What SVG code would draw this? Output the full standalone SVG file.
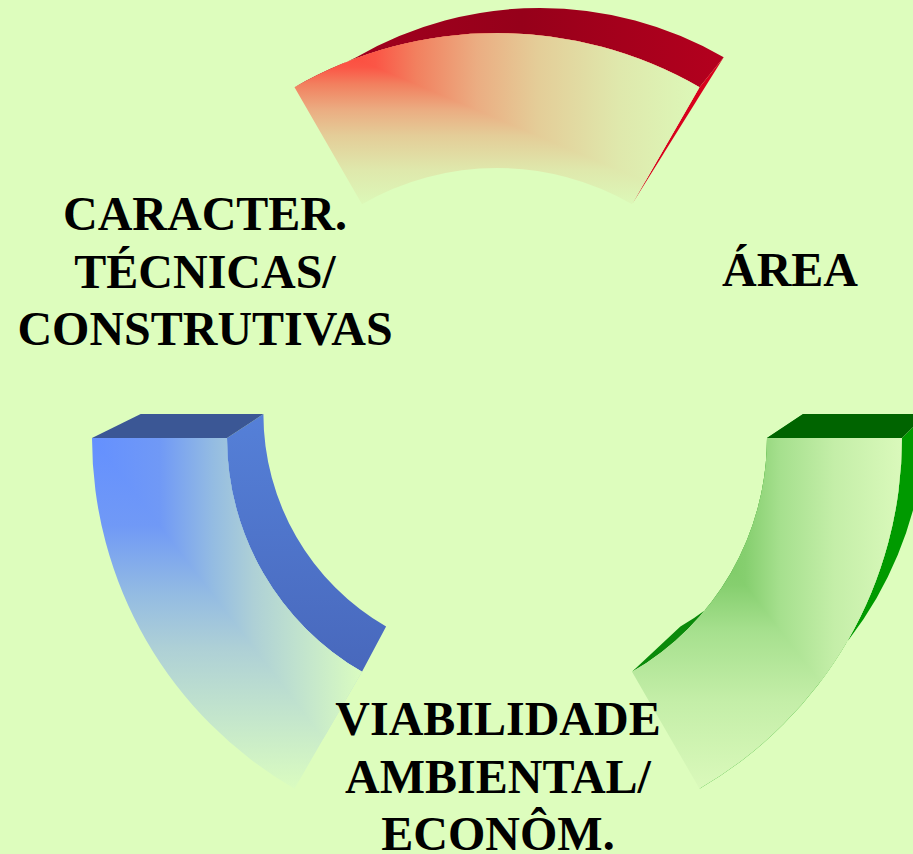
<svg xmlns="http://www.w3.org/2000/svg" width="913" height="854" viewBox="0 0 913 854">
<style>
text{font-family:"Liberation Serif","Times New Roman",serif;font-weight:bold;font-size:48px;fill:#000;text-anchor:middle}
</style>
<defs>
<clipPath id="ur" clipPathUnits="objectBoundingBox"><polygon points="0,0 1,0 1,1"/></clipPath>
<linearGradient id="rH" x1="0" y1="0" x2="1" y2="0">
<stop offset="0" stop-color="#ff3a30"/><stop offset="0.2" stop-color="#fb5646"/><stop offset="0.3" stop-color="#f2805f"/><stop offset="0.45" stop-color="#ebad82"/><stop offset="0.6" stop-color="#e4cd98"/><stop offset="0.8" stop-color="#dfe8ac"/><stop offset="1" stop-color="#dcf8b8"/>
</linearGradient>
<linearGradient id="rV" x1="0" y1="0" x2="0" y2="1">
<stop offset="0" stop-color="#ff3a30"/><stop offset="0.2" stop-color="#fb5646"/><stop offset="0.3" stop-color="#f2805f"/><stop offset="0.45" stop-color="#ebad82"/><stop offset="0.6" stop-color="#e4cd98"/><stop offset="0.8" stop-color="#dfe8ac"/><stop offset="1" stop-color="#dcf8b8"/>
</linearGradient>
<linearGradient id="bH" x1="0" y1="0" x2="1" y2="0">
<stop offset="0" stop-color="#6490ff"/><stop offset="0.25" stop-color="#7099f6"/><stop offset="0.45" stop-color="#94bce2"/><stop offset="0.6" stop-color="#aed0d6"/><stop offset="0.8" stop-color="#c4e6cc"/><stop offset="1" stop-color="#dafcc0"/>
</linearGradient>
<linearGradient id="bV" x1="0" y1="0" x2="0" y2="1">
<stop offset="0" stop-color="#6490ff"/><stop offset="0.25" stop-color="#7099f6"/><stop offset="0.45" stop-color="#94bce2"/><stop offset="0.6" stop-color="#aed0d6"/><stop offset="0.8" stop-color="#c4e6cc"/><stop offset="1" stop-color="#dafcc0"/>
</linearGradient>
<linearGradient id="gH" x1="0" y1="0" x2="1" y2="0">
<stop offset="0" stop-color="#58b840"/><stop offset="0.42" stop-color="#86cf6f"/><stop offset="0.55" stop-color="#a6e08e"/><stop offset="0.75" stop-color="#c4eea8"/><stop offset="1" stop-color="#daf9bb"/>
</linearGradient>
<linearGradient id="gV" x1="0" y1="0" x2="0" y2="1">
<stop offset="0" stop-color="#58b840"/><stop offset="0.42" stop-color="#86cf6f"/><stop offset="0.55" stop-color="#a6e08e"/><stop offset="0.75" stop-color="#c4eea8"/><stop offset="1" stop-color="#daf9bb"/>
</linearGradient>
<linearGradient id="rSide" gradientUnits="userSpaceOnUse" x1="356" y1="0" x2="724" y2="0">
<stop offset="0" stop-color="#a0001e"/><stop offset="0.45" stop-color="#96001a"/><stop offset="1" stop-color="#b4001e"/>
</linearGradient>
<linearGradient id="bSide" gradientUnits="userSpaceOnUse" x1="0" y1="414" x2="0" y2="672">
<stop offset="0" stop-color="#5580d8"/><stop offset="1" stop-color="#4868bc"/>
</linearGradient>
</defs>
<rect width="913" height="854" fill="#ddfdbd"/>

<g id="segment-red">
<path d="M294.5,87.3 A405,405 0 0 1 699.5,87.3 L723.7,57.2 A367.3,367.3 0 0 0 356.3,57.2 Z" fill="url(#rSide)"/>
<polygon points="699.5,87.3 723.7,57.2 632,204.2" fill="#d8001c"/>
<path d="M294.5,87.3 A405,405 0 0 1 699.5,87.3 L632,204.2 A270,270 0 0 0 362,204.2 Z" fill="url(#rV)"/>
<path d="M294.5,87.3 A405,405 0 0 1 699.5,87.3 L632,204.2 A270,270 0 0 0 362,204.2 Z" fill="url(#rH)" clip-path="url(#ur)"/>
</g>

<g id="segment-green">
<path d="M632,671.8 L680.4,626.6 A245.4,245.4 0 0 0 803.1,414.1 L767,438 A270,270 0 0 1 632,671.8 Z" fill="#0a8a0a"/>
<path d="M902,438 A405,405 0 0 1 699.5,788.7 L741.8,732.9 A368.1,368.1 0 0 0 925.8,414.1 Z" fill="#009a00"/>
<polygon points="767,438 902,438 925.8,414.1 803.1,414.1" fill="#006400"/>
<path d="M902,438 A405,405 0 0 1 699.5,788.7 L632,671.8 A270,270 0 0 0 767,438 Z" fill="url(#gV)"/>
<path d="M902,438 A405,405 0 0 1 699.5,788.7 L632,671.8 A270,270 0 0 0 767,438 Z" fill="url(#gH)" clip-path="url(#ur)"/>
</g>

<g id="segment-blue">
<path d="M227,438 L263.4,414.1 A245.4,245.4 0 0 0 386.1,626.6 L362,671.8 A270,270 0 0 1 227,438 Z" fill="url(#bSide)"/>
<polygon points="92,438 227,438 263.4,414.1 140.7,414.1" fill="#3b5795"/>
<path d="M294.5,788.7 A405,405 0 0 1 92,438 L227,438 A270,270 0 0 0 362,671.8 Z" fill="url(#bV)"/>
<path d="M294.5,788.7 A405,405 0 0 1 92,438 L227,438 A270,270 0 0 0 362,671.8 Z" fill="url(#bH)" clip-path="url(#ur)"/>
</g>

<g id="label-caracter">
<text x="205" y="230">CARACTER.</text>
<text x="205" y="287.5">TÉCNICAS/</text>
<text x="205" y="345">CONSTRUTIVAS</text>
</g>
<g id="label-area">
<text x="790" y="286">ÁREA</text>
</g>
<g id="label-viabilidade">
<text x="498" y="735">VIABILIDADE</text>
<text x="498" y="792.5">AMBIENTAL/</text>
<text x="498" y="850">ECONÔM.</text>
</g>
</svg>
